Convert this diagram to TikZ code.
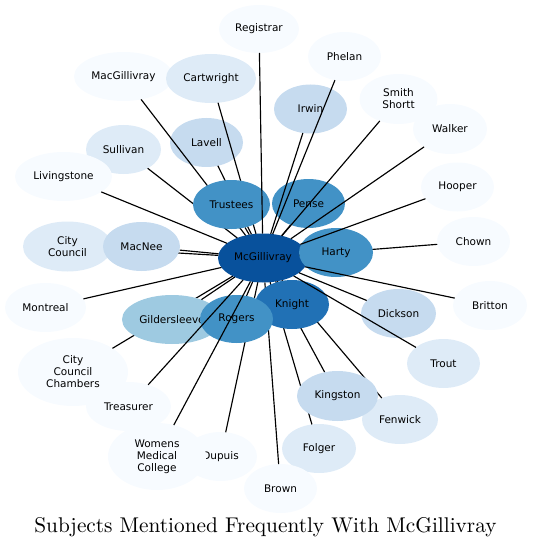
\documentclass[tikz,border=0pt]{standalone}
\usepackage{fontspec}
\setsansfont{DejaVu Sans}
\newfontfamily\titlefont{lmroman10-regular}[Extension=.otf]
\usetikzlibrary{shapes.geometric}
\definecolor{bA}{RGB}{247,251,255}
\definecolor{bB}{RGB}{222,235,247}
\definecolor{bC}{RGB}{198,219,239}
\definecolor{bD}{RGB}{158,202,225}
\definecolor{bE}{RGB}{66,146,198}
\definecolor{bF}{RGB}{33,113,181}
\definecolor{bG}{RGB}{8,81,156}
\begin{document}
\begin{tikzpicture}[x=1pt,y=-1pt,
  nd/.style={ellipse, inner sep=0pt, outer sep=0pt, align=center, text=black,
    font=\sffamily\fontsize{10.5}{12}\selectfont},
  sz/.style 2 args={minimum width=#1pt, minimum height=#2pt},
  edge/.style={line width=1.15pt, black}]
\useasboundingbox (0,0) rectangle (532,548);

% ---- bottom layer nodes
\node[nd, fill=bA, sz={80}{48}] (reg) at (259,29) {Registrar};
\node[nd, fill=bA, sz={73}{49}] (phe) at (344.5,56.5) {Phelan};
\node[nd, fill=bA, sz={99}{49}] (macg) at (123.5,76.5) {MacGillivray};
\node[nd, fill=bB, sz={90}{49}] (cart) at (211,78.5) {Cartwright};
\node[nd, fill=bC, sz={73}{49}] (irw) at (310.5,109) {Irwin};
\node[nd, fill=bA, sz={78}{50}] (smi) at (398.5,99) {Smith\\Shortt};
\node[nd, fill=bA, sz={74}{50}] (wal) at (450,129) {Walker};
\node[nd, fill=bC, sz={73}{49}] (lav) at (206.5,142.5) {Lavell};
\node[nd, fill=bB, sz={75}{49}] (sul) at (123.5,149.5) {Sullivan};
\node[nd, fill=bA, sz={97}{49}] (liv) at (63.5,176.5) {Livingstone};
\node[nd, fill=bA, sz={73}{49}] (hoo) at (457.5,187) {Hooper};
\node[nd, fill=bA, sz={73}{49}] (cho) at (473.5,241.5) {Chown};
\node[nd, fill=bB, sz={89}{50}] (cc) at (67.5,246.5) {City\\Council};
\node[nd, fill=bA, sz={81}{49}] (mon) at (45.5,307.5) {Montreal};
\node[nd, fill=bA, sz={74}{49}] (bri) at (490,305.5) {Britton};
\node[nd, fill=bC, sz={75}{49}] (dic) at (398.5,313.5) {Dickson};
\node[nd, fill=bA, sz={110}{68}] (ccc) at (73,372) {City\\Council\\Chambers};
\node[nd, fill=bB, sz={73}{49}] (tro) at (443.5,363.5) {Trout};
\node[nd, fill=bA, sz={85}{49}] (tre) at (128.5,406.5) {Treasurer};
\node[nd, fill=bB, sz={76}{49}] (fen) at (400,419.5) {Fenwick};
\node[nd, fill=bA, sz={73}{49}] (dup) at (220.5,456.5) {Dupuis};
\node[nd, fill=bA, sz={98}{67}] (wom) at (157,456.5) {Womens\\Medical\\College};
\node[nd, fill=bB, sz={74}{49}] (fol) at (319,448.5) {Folger};
\node[nd, fill=bA, sz={73}{49}] (bro) at (280.5,488.5) {Brown};
\node[nd, fill=bG, sz={90}{49}] (mcg) at (263,258) {McGillivray};
\node[nd, fill=bE, sz={73}{49}] (pen) at (308.5,203.5) {Pense};

% ---- node outlines for the upper-layer nodes (filled later)
\node[nd, sz={77}{49}] (tru) at (231.5,204.5) {};
\node[nd, sz={77}{49}] (macn) at (141.5,246.5) {};
\node[nd, sz={100}{49}] (gil) at (172,319.5) {};
\node[nd, sz={73}{48}] (rog) at (236.5,319) {};
\node[nd, sz={74}{49}] (kni) at (292,304.5) {};
\node[nd, sz={81}{50}] (kin) at (337.5,396) {};
\node[nd, sz={74}{49}] (har) at (336,252.5) {};

% ---- edges beneath the upper-layer nodes
\draw[edge] (mcg) -- (macg);
\draw[edge] (mcg) -- (cart);
\draw[edge] (mcg) -- (lav);
\draw[edge] (mcg) -- (sul);
\draw[edge] (mcg) -- (tru);
\draw[edge] (mcg) -- (cc);
\draw[edge] (mcg) -- (macn);
\draw[edge] (mcg) -- (ccc);
\draw[edge] (mcg) -- (gil);
\draw[edge] (mcg) -- (dup);
\draw[edge] (mcg) -- (rog);
\draw[edge] (mcg) -- (kni);
\draw[edge] (mcg) -- (kin);
\draw[edge] (mcg) -- (fol);
\draw[edge] (mcg) -- (fen);
\draw[edge] (mcg) -- (cho);
\draw[edge] (mcg) -- (har);
\draw[edge] (mcg) -- (bro);

% ---- upper-layer nodes
\node[nd, fill=bE, sz={74}{49}] (harty) at (har) {Harty};
\node[nd, fill=bE, sz={77}{49}] (trustees) at (tru) {Trustees};
\node[nd, fill=bC, sz={77}{49}] (macnee) at (macn) {MacNee};
\node[nd, fill=bD, sz={100}{49}] (gilders) at (gil) {Gildersleeve};
\node[nd, fill=bF, sz={74}{49}] (knight) at (kni) {Knight};
\node[nd, fill=bE, sz={73}{48}] (rogers) at (rog) {Rogers};
\node[nd, fill=bC, sz={81}{50}] (kingston) at (kin) {Kingston};

% ---- edges on top
\draw[edge] (mcg) -- (reg);
\draw[edge] (mcg) -- (phe);
\draw[edge] (mcg) -- (irw);
\draw[edge] (mcg) -- (smi);
\draw[edge] (mcg) -- (wal);
\draw[edge] (mcg) -- (hoo);
\draw[edge] (mcg) -- (pen);
\draw[edge] (mcg) -- (liv);
\draw[edge] (mcg) -- (mon);
\draw[edge] (mcg) -- (bri);
\draw[edge] (mcg) -- (dic);
\draw[edge] (mcg) -- (tro);
\draw[edge] (mcg) -- (tre);
\draw[edge] (mcg) -- (wom);

% ---- title
\node[anchor=base, inner sep=0pt, font=\titlefont\fontsize{21.3}{24}\selectfont] (title) at (265.5,532) {Subjects Mentioned Frequently With McGillivray};
\end{tikzpicture}
\end{document}
